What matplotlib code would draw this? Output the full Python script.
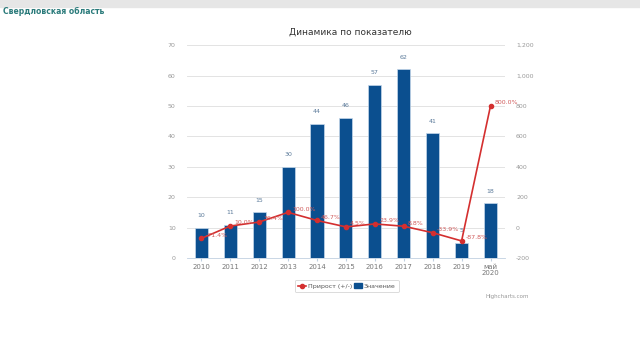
import matplotlib.pyplot as plt
import matplotlib.patches as mpatches
from matplotlib.lines import Line2D
import numpy as np

# Данные графика
years = ['2010', '2011', '2012', '2013', '2014', '2015', '2016', '2017', '2018', '2019', 'май\n2020']
values = [10, 11, 15, 30, 44, 46, 57, 62, 41, 5, 18]
growth = [-71.4, 10.0, 36.4, 100.0, 46.7, 4.5, 23.9, 8.8, -33.9, -87.8, 800.0]

bar_color = '#0b4f8f'
line_color = '#d42f2f'
label_color = '#5b7a9a'
tick_color = '#777777'

fig = plt.figure(figsize=(6.4, 3.39), dpi=100)

# Серая полоса сверху и заголовок региона
fig.patches.append(mpatches.Rectangle((0, 0.978), 1, 0.022, transform=fig.transFigure,
                                      color='#e6e6e6', zorder=0))
fig.text(0.005, 0.965, 'Свердловская область', color='#2b7b7b', fontsize=5.5,
         fontweight='bold', ha='left', va='center')

ax = fig.add_axes([0.292, 0.239, 0.497, 0.628])
x = np.arange(len(years))

ax.set_ylim(0, 70)
ax.set_yticks(np.arange(0, 71, 10))
ax.grid(axis='y', color='#e3e3e3', linewidth=0.7)
ax.set_axisbelow(True)
bars = ax.bar(x, values, width=0.45, color=bar_color, edgecolor='#c5d8ea', linewidth=0.5, zorder=2)
for xi, v in zip(x, values):
    ax.annotate(str(v), (xi, v), xytext=(0, 7), textcoords='offset points',
                ha='center', va='bottom', fontsize=4.5, color=label_color)

ax.set_xlim(-0.5, len(years) - 0.5)
ax.set_xticks(x)
ax.set_xticklabels(years, fontsize=5, color=tick_color, linespacing=1.1)
ax.tick_params(axis='y', labelsize=4.5, labelcolor='#999999', length=0, pad=8)
ax.tick_params(axis='x', length=2, color='#c0d0e0', pad=2)
for s in ['top', 'right', 'left']:
    ax.spines[s].set_visible(False)
ax.spines['bottom'].set_color('#c0d0e0')
ax.spines['bottom'].set_linewidth(0.6)

# Вторая ось - прирост
ax2 = ax.twinx()
ax2.set_ylim(-200, 1200)
ax2.set_yticks(np.arange(-200, 1201, 200))
ax2.set_yticklabels([f'{t:,}' for t in range(-200, 1201, 200)])
ax2.tick_params(axis='y', labelsize=4.5, labelcolor='#999999', length=0, pad=8)
for s in ['top', 'right', 'left', 'bottom']:
    ax2.spines[s].set_visible(False)
ax2.plot(x, growth, color=line_color, linewidth=1.2, marker='o', markersize=3, zorder=3)
for xi, g in zip(x, growth):
    ax2.annotate(f'{g:.1f}%', (xi, g), xytext=(3, 0.5), textcoords='offset points',
                 ha='left', va='bottom', fontsize=4.5, color='#d05a5a')

fig.text(0.547, 0.905, 'Динамика по показателю', ha='center', va='center',
         fontsize=6.5, color='#333333')

# Легенда
handles = [Line2D([0], [0], color=line_color, marker='o', markersize=3, linewidth=1.2),
           mpatches.Patch(color=bar_color)]
leg = fig.legend(handles, ['Прирост (+/-)', 'Значение'], loc='center',
                 bbox_to_anchor=(0.542, 0.156), ncol=2, fontsize=4.5, frameon=True,
                 handlelength=1.2, handleheight=0.8, columnspacing=0.4, handletextpad=0.3,
                 borderpad=0.5, fancybox=True)
leg.get_frame().set_edgecolor('#cccccc')
leg.get_frame().set_linewidth(0.6)
for t in leg.get_texts():
    t.set_color('#555555')

fig.text(0.826, 0.125, 'Highcharts.com', ha='right', va='center', fontsize=4, color='#999999')

fig.savefig('out.png', dpi=100)
